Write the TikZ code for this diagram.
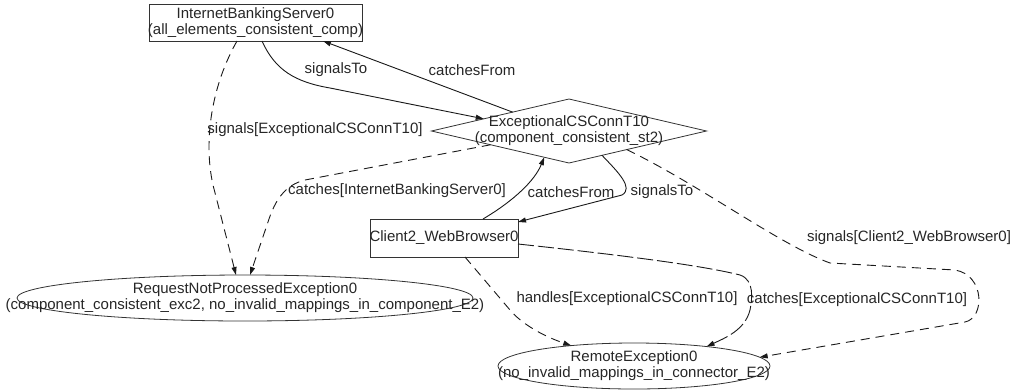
\documentclass[tikz,border=0pt]{standalone}
\usepackage{fontspec}
\setmainfont{Liberation Sans}
\usetikzlibrary{shapes.geometric,arrows.meta,calc}
\begin{document}
\begin{tikzpicture}[x=1pt,y=-1pt,
  txt/.style={font=\fontsize{15}{16}\selectfont, align=center, inner sep=0pt, text=black!85},
  shp/.style={draw=black!80, line width=0.8pt, inner sep=0pt, outer sep=0pt},
  conn/.style={draw=black!90, line width=0.9pt, -{Triangle[length=8pt,width=5pt]}},
  dconn/.style={conn, dash pattern=on 9pt off 6pt},
  ldconn/.style={conn, dash pattern=on 16pt off 4pt}]
\useasboundingbox (0,0) rectangle (1011,389);
% nodes
\node[shp, rectangle, minimum width=213pt, minimum height=37pt,
  label={[txt]center:InternetBankingServer0\\(all\_elements\_consistent\_comp)}] (ibs) at (255.5,22.5) {};
\node[shp, diamond, minimum width=275pt, minimum height=64pt,
  label={[txt]center:ExceptionalCSConnT10\\(component\_consistent\_st2)}] (ecs) at (569,131) {};
\node[shp, rectangle, minimum width=148pt, minimum height=38pt,
  label={[txt]center:Client2\_WebBrowser0}] (client) at (444,238) {};
\node[shp, ellipse, minimum width=456pt, minimum height=46pt,
  label={[txt]center:RequestNotProcessedException0\\(component\_consistent\_exc2, no\_invalid\_mappings\_in\_component\_E2)}] (rnpe) at (245,298) {};
\node[shp, ellipse, minimum width=272pt, minimum height=46pt,
  label={[txt]center:RemoteException0\\(no\_invalid\_mappings\_in\_connector\_E2)}] (re) at (634,366) {};
% edge labels
\node[txt] (l1) at (336,70) {signalsTo};
\node[txt] (l2) at (472,70) {catchesFrom};
\node[txt] (l3) at (315,130) {signals[ExceptionalCSConnT10]};
\node[txt] (l4) at (397,191) {catches[InternetBankingServer0]};
\node[txt] (l5) at (571,192) {catchesFrom};
\node[txt] (l6) at (662,192) {signalsTo};
\node[txt] (l7) at (909,238) {signals[Client2\_WebBrowser0]};
\node[txt] (l8) at (627,299) {handles[ExceptionalCSConnT10]};
\node[txt] (l9) at (857,300) {catches[ExceptionalCSConnT10]};
% connectors
\draw[conn] ([xshift=6.5pt]ibs.south) .. controls (275,70) and (295,82) .. (330,88)
  -- ($(ecs.west)!0.38!(ecs.north)$);
\draw[conn] ($(ecs.west)!0.59!(ecs.north)$) -- ([xshift=67.5pt]ibs.south);
\draw[dconn] ([xshift=-18.5pt]ibs.south) .. controls (212,85) and (203,140) .. (213,185)
  -- ([xshift=-9pt]rnpe.north);
\draw[dconn] ($(ecs.west)!0.43!(ecs.south)$) -- (305,180) .. controls (285,185) and (275,200) .. (268,222)
  -- ([xshift=5pt]rnpe.north);
\draw[conn] ([xshift=39pt]client.north) .. controls (515,200) and (535,180) .. ($(ecs.west)!0.82!(ecs.south)$);
\draw[conn] ($(ecs.south)!0.24!(ecs.east)$) .. controls (618,172) and (634,188) .. (622,195)
  -- ([yshift=-3pt]client.north east);
\draw[dconn] ($(ecs.south)!0.42!(ecs.east)$) .. controls (700,185) and (780,245) .. (830,263)
  -- (955,270) .. controls (985,275) and (985,318) .. (965,322) -- (re.4.5);
\draw[ldconn] ([yshift=-6pt]client.east) .. controls (620,255) and (700,265) .. (740,275)
  .. controls (755,280) and (752,300) .. (750,310) .. controls (745,330) and (725,338) .. (re.15);
\draw[dconn] ([xshift=21pt]client.south) -- (510,310) .. controls (520,322) and (540,335) .. (re.162);
\end{tikzpicture}
\end{document}
